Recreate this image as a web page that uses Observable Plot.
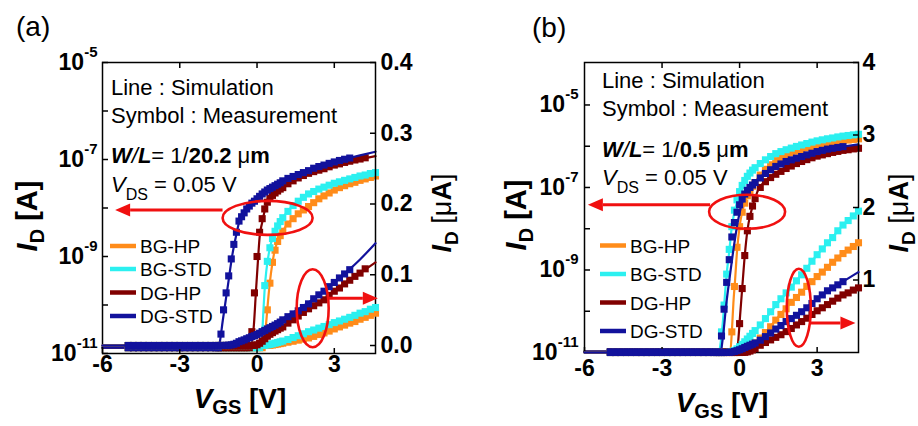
<!DOCTYPE html>
<html><head><meta charset="utf-8">
<script src="https://cdn.jsdelivr.net/npm/d3@7"></script>
<script src="https://cdn.jsdelivr.net/npm/@observablehq/plot@0.6"></script>
<style>
body{margin:0;background:#fff;}
#wrap{position:relative;width:918px;height:426px;overflow:hidden;font-family:"Liberation Sans",Arial,sans-serif;background:#fff;}
#wrap svg{position:absolute;left:0;top:0;}
</style></head><body><div id="wrap"></div>
<script>
// ---------------- data ----------------
const deviceNames = ["BG-HP", "BG-STD", "DG-HP", "DG-STD"];
const deviceColors = ["#ff8c1a", "#2cf0f0", "#800000", "#12129c"];

// Panel (a): W/L = 1/20.2 um ; measured log10(ID[A]) on the VGS sweep grid
const vgsMeasA = [-5.0,-4.8,-4.6,-4.4,-4.2,-4.0,-3.8,-3.6,-3.4,-3.2,-3.0,-2.8,-2.6,-2.4,-2.2,-2.0,-1.8,-1.6,
  -1.5,-1.4,-1.3,-1.2,-1.1,-1.0,-0.9,-0.8,-0.7,-0.6,-0.5,-0.4,-0.3,-0.2,-0.1,0.0,0.1,0.2,0.3,0.4,0.5,0.6,0.7,0.8,0.9,1.0,
  1.2,1.4,1.6,1.8,2.0,2.2,2.4,2.6,2.8,3.0,3.2,3.4,3.6,3.8,4.0,4.2,4.4,4.6];
const measA_BGHP = [-10.88,-10.88,-10.88,-10.88,-10.88,-10.88,-10.88,-10.88,-10.88,-10.88,-10.88,-10.88,-10.88,-10.88,-10.88,-10.88,-10.88,-10.88,
  -10.88,-10.88,-10.88,-10.88,-10.88,-10.88,-10.88,-10.88,-10.88,-10.88,-10.88,-10.88,-10.88,-10.88,-10.88,-10.88,-10.88,-10.88,
  -10.75,-10.1,-9.55,-9.12,-8.87,-8.69,-8.57,-8.48,
  -8.33,-8.22,-8.12,-8.04,-7.97,-7.89,-7.81,-7.75,-7.69,-7.63,-7.58,-7.54,-7.50,-7.47,-7.43,-7.40,-7.37,-7.34];
const measA_BGSTD = [-10.88,-10.88,-10.88,-10.88,-10.88,-10.88,-10.88,-10.88,-10.88,-10.88,-10.88,-10.88,-10.88,-10.88,-10.88,-10.88,-10.88,-10.88,
  -10.88,-10.88,-10.88,-10.88,-10.88,-10.88,-10.88,-10.88,-10.88,-10.88,-10.88,-10.88,-10.88,-10.88,-10.88,-10.88,-10.88,
  -10.55,-9.6,-9.1,-8.82,-8.63,-8.48,-8.37,-8.28,-8.20,
  -8.07,-7.95,-7.86,-7.78,-7.71,-7.66,-7.61,-7.57,-7.53,-7.49,-7.46,-7.43,-7.40,-7.37,-7.34,-7.32,-7.29,-7.27];
const measA_DGHP = [-10.88,-10.88,-10.88,-10.88,-10.88,-10.88,-10.88,-10.88,-10.88,-10.88,-10.88,-10.88,-10.88,-10.88,-10.88,-10.88,-10.88,-10.88,
  -10.88,-10.88,-10.88,-10.88,-10.88,-10.88,-10.88,-10.88,-10.88,-10.88,-10.88,-10.88,-10.88,
  -10.55,-9.75,-9.0,-8.5,-8.22,-8.02,-7.88,-7.80,-7.74,-7.69,-7.65,-7.61,-7.58,
  -7.50,-7.44,-7.38,-7.33,-7.285,-7.25,-7.22,-7.19,-7.15,-7.115,-7.09,-7.06,-7.035,-7.01,-6.99,-6.965,null,null];
const measA_DGSTD = [-10.88,-10.88,-10.88,-10.88,-10.88,-10.88,-10.88,-10.88,-10.88,-10.88,-10.88,-10.88,-10.88,-10.88,-10.88,-10.88,-10.88,-10.88,
  -10.88,-10.6,-10.1,-9.75,-9.4,-9.05,-8.75,-8.5,-8.27,-8.18,-8.10,-8.02,-7.96,-7.90,-7.86,-7.81,-7.76,-7.71,-7.67,-7.63,-7.60,-7.57,-7.54,-7.51,-7.48,-7.44,
  -7.39,-7.35,-7.31,-7.27,-7.23,-7.18,-7.145,-7.115,-7.08,-7.05,-7.02,-6.995,-6.97,null,null,null,null,null];
// simulated [VGS, log10(ID[A])]
const simA_BGHP = [[-6,-10.88],[0.25,-10.88],[0.3,-10.7],[0.35,-10.4],[0.43,-9.9],[0.54,-9.35],[0.66,-8.94],[0.86,-8.61],[1.21,-8.32],[1.71,-8.08],[2.37,-7.82],[3.0,-7.63],[3.5,-7.51],[4.0,-7.42],[4.6,-7.34]];
const simA_BGSTD = [[-6,-10.88],[0.14,-10.88],[0.2,-10.6],[0.25,-10.1],[0.3,-9.65],[0.36,-9.3],[0.47,-8.9],[0.66,-8.53],[0.93,-8.26],[1.32,-7.99],[1.98,-7.72],[2.6,-7.56],[3.27,-7.44],[4.0,-7.34],[4.6,-7.27]];
const simA_DGHP = [[-6,-10.88],[-0.25,-10.88],[-0.2,-10.8],[-0.12,-10.4],[-0.04,-9.7],[0.04,-9.05],[0.1,-8.6],[0.2,-8.3],[0.3,-8.05],[0.43,-7.87],[0.6,-7.74],[0.8,-7.65],[1.0,-7.58],[1.5,-7.41],[2.0,-7.285],[2.5,-7.2],[3.0,-7.115],[3.5,-7.045],[4.0,-6.99],[4.6,-6.93]];
const simA_DGSTD = [[-6,-10.88],[-1.5,-10.88],[-1.45,-10.78],[-1.33,-10.32],[-1.14,-9.63],[-0.95,-8.94],[-0.8,-8.54],[-0.69,-8.28],[-0.4,-8.02],[0,-7.81],[0.5,-7.585],[1.0,-7.42],[1.5,-7.31],[2.0,-7.215],[2.5,-7.13],[3.0,-7.05],[3.5,-6.98],[4.0,-6.915],[4.6,-6.84]];

// Panel (b): W/L = 1/0.5 um
const vgsMeasB = [-5.0,-4.8,-4.6,-4.4,-4.2,-4.0,-3.8,-3.6,-3.4,-3.2,-3.0,-2.8,-2.6,-2.4,-2.2,-2.0,-1.8,-1.6,-1.4,-1.2,-1.0,
  -0.9,-0.8,-0.7,-0.6,-0.5,-0.4,-0.3,-0.2,-0.1,0.0,0.1,0.2,0.3,0.4,0.5,0.6,
  0.8,1.0,1.2,1.4,1.6,1.8,2.0,2.2,2.4,2.6,2.8,3.0,3.2,3.4,3.6,3.8,4.0,4.2,4.4,4.6];
const measB_BGHP = [-10.98,-10.98,-10.98,-10.98,-10.98,-10.98,-10.98,-10.98,-10.98,-10.98,-10.98,-10.98,-10.98,-10.98,-10.98,-10.98,-10.98,-10.98,-10.98,-10.98,-10.98,
  -10.98,-10.98,-10.98,-10.98,-10.98,-10.98,-10.5,-9.4,-8.45,-7.95,-7.6,-7.38,-7.2,-7.08,-6.97,-6.88,
  -6.70,-6.56,-6.45,-6.35,-6.28,-6.22,-6.16,-6.12,-6.08,-6.04,-6.01,-5.98,-5.955,-5.93,-5.905,-5.885,-5.865,-5.85,-5.835,-5.82];
const measB_BGSTD = [-10.98,-10.98,-10.98,-10.98,-10.98,-10.98,-10.98,-10.98,-10.98,-10.98,-10.98,-10.98,-10.98,-10.98,-10.98,-10.98,-10.98,-10.98,-10.98,-10.98,-10.98,
  -10.98,-10.98,-10.5,-9.85,-9.1,-8.5,-7.95,-7.55,-7.3,-7.1,-6.95,-6.83,-6.73,-6.65,-6.58,-6.52,
  -6.42,-6.33,-6.25,-6.18,-6.13,-6.085,-6.045,-6.005,-5.97,-5.935,-5.90,-5.87,-5.845,-5.82,-5.80,-5.775,-5.755,-5.74,-5.725,-5.71];
const measB_DGHP = [-10.98,-10.98,-10.98,-10.98,-10.98,-10.98,-10.98,-10.98,-10.98,-10.98,-10.98,-10.98,-10.98,-10.98,-10.98,-10.98,-10.98,-10.98,-10.98,-10.98,-10.98,
  -10.98,-10.98,-10.98,-10.98,-10.98,-10.98,-10.98,-10.98,-10.98,-10.3,-9.45,-8.65,-8.05,-7.7,-7.45,-7.27,
  -7.0,-6.86,-6.76,-6.68,-6.61,-6.54,-6.48,-6.42,-6.37,-6.325,-6.28,-6.24,-6.21,-6.18,-6.15,-6.125,-6.10,-6.085,-6.065,-6.05];
const measB_DGSTD = [-10.98,-10.98,-10.98,-10.98,-10.98,-10.98,-10.98,-10.98,-10.98,-10.98,-10.98,-10.98,-10.98,-10.98,-10.98,-10.98,-10.98,-10.98,-10.98,-10.98,-10.98,
  -10.98,-10.98,-10.6,-9.95,-9.3,-8.75,-8.2,-7.85,-7.6,-7.42,-7.28,-7.16,-7.07,-7.0,-6.94,-6.88,
  -6.77,-6.66,-6.57,-6.49,-6.43,-6.37,-6.33,-6.29,-6.25,-6.21,-6.17,-6.13,-6.10,-6.07,-6.05,-6.03,-6.01,null,null,null];
const simB_BGHP = [[-6,-10.98],[-0.36,-10.98],[-0.3,-10.5],[-0.24,-9.8],[-0.17,-9.2],[-0.1,-8.55],[0.0,-7.95],[0.08,-7.65],[0.3,-7.2],[0.5,-6.97],[0.77,-6.72],[1.0,-6.56],[1.42,-6.34],[2.0,-6.16],[2.5,-6.06],[3.0,-5.98],[3.5,-5.915],[4.0,-5.865],[4.6,-5.82]];
const simB_BGSTD = [[-6,-10.98],[-0.8,-10.98],[-0.72,-10.7],[-0.64,-10.2],[-0.56,-9.55],[-0.5,-9.1],[-0.4,-8.55],[-0.3,-7.95],[-0.2,-7.6],[-0.12,-7.4],[0,-7.15],[0.2,-6.87],[0.5,-6.6],[0.9,-6.38],[1.4,-6.19],[2.0,-6.045],[2.5,-5.95],[3.0,-5.87],[3.5,-5.81],[4.0,-5.755],[4.6,-5.71]];
const simB_DGHP = [[-6,-10.98],[-0.1,-10.98],[-0.05,-10.7],[0.02,-10.1],[0.1,-9.45],[0.2,-8.65],[0.3,-8.05],[0.46,-7.55],[0.69,-7.1],[0.9,-6.9],[1.15,-6.77],[1.5,-6.64],[2.0,-6.48],[2.5,-6.35],[3.0,-6.24],[3.5,-6.165],[4.0,-6.1],[4.6,-6.05]];
const simB_DGSTD = [[-6,-10.98],[-0.72,-10.98],[-0.68,-10.8],[-0.64,-10.6],[-0.51,-9.8],[-0.38,-9.16],[-0.26,-8.6],[-0.06,-7.8],[0.13,-7.3],[0.45,-6.98],[0.9,-6.7],[1.4,-6.49],[1.8,-6.37],[2.5,-6.23],[3.0,-6.13],[3.5,-6.06],[4.0,-6.01],[4.6,-5.955]];

// axis ticks
const xTicks = [-6, -3, 0, 3];
const logTicks = [1e-5, 1e-6, 1e-7, 1e-8, 1e-9, 1e-10, 1e-11];
const linTicksA = [0, 0.1, 0.2, 0.3, 0.4];
const linTicksB = [1, 2, 3, 4];
const legendLabels = deviceNames;

// annotation anchors in data coordinates
const annotA = {ellLog: [0.43, 6.1e-9], arrLog: [-1.32, -5.49, 8.9e-9], ellLin: [2.18, 0.052], arrLin: [2.8, 4.71, 0.066]};
const annotB = {ellLog: [0.31, 2.5e-8], arrLog: [-1.12, -5.85, 3.7e-8], ellLin: [2.31, 0.61], arrLin: [2.77, 4.5, 0.40]};

// ---------------- helpers ----------------
const measRows = (vgs, logs) => vgs.map((v, i) => ({V: v, ID: logs[i] == null ? null : Math.pow(10, logs[i])})).filter(d => d.ID != null);
const simRows = pairs => pairs.map(([v, l]) => ({V: v, ID: Math.pow(10, l)}));

function richText(svg, x, y, parts, {size = 22, anchor = "start", rotate = 0} = {}) {
  const t = d3.select(svg).append("text").attr("x", x).attr("y", y)
    .attr("font-size", size).attr("text-anchor", anchor).attr("fill", "black")
    .style("white-space", "pre").attr("font-family", "Liberation Sans, Arial, sans-serif");
  if (rotate) t.attr("transform", `rotate(${rotate},${x},${y})`);
  let cur = 0;
  for (const p of parts) {
    const sp = t.append("tspan").text(p.t);
    const shift = p.sh || 0;
    if (shift !== cur) { sp.attr("dy", shift - cur); cur = shift; }
    if (p.s) sp.attr("font-size", p.s);
    sp.attr("font-weight", p.b ? "bold" : "normal");
    if (p.i) sp.attr("font-style", "italic");
  }
  return t;
}

const RED = "#f01010";
function arrow(svg, x0, x1, y) {
  const g = d3.select(svg);
  const dir = Math.sign(x1 - x0), head = 15, half = 6.5;
  g.append("line").attr("x1", x0).attr("y1", y).attr("x2", x1 - dir * head).attr("y2", y)
    .attr("stroke", RED).attr("stroke-width", 3);
  g.append("path").attr("d", `M${x1},${y}L${x1 - dir * head},${y - half}L${x1 - dir * head},${y + half}Z`).attr("fill", RED);
}
function ellipse(svg, cx, cy, rx, ry) {
  d3.select(svg).append("ellipse").attr("cx", cx).attr("cy", cy).attr("rx", rx).attr("ry", ry)
    .attr("fill", "none").attr("stroke", RED).attr("stroke-width", 2.6);
}

function supLabels(svg) {
  d3.select(svg).selectAll('g[aria-label="y-axis tick label"] text').each(function () {
    const s = this.textContent;
    if (!s.startsWith("10^")) return;
    const e = s.slice(3);
    this.textContent = "";
    d3.select(this).append("tspan").text("10");
    d3.select(this).append("tspan").attr("dy", -13).attr("font-size", 15).text(e);
  });
}

const baseStyle = {background: "transparent", fontFamily: "Liberation Sans, Arial, sans-serif",
  fontSize: "23px", fontWeight: "bold", color: "black", overflow: "visible"};

function buildPanel(cfg) {
  const meas = cfg.meas.map(m => measRows(cfg.vgs, m));
  const sims = cfg.sim.map(simRows);
  const common = {width: 918, height: 426, marginLeft: cfg.ml, marginRight: cfg.mr, marginTop: cfg.mt, marginBottom: cfg.mb, style: baseStyle};
  const dataMarks = (yf) => {
    const out = [];
    deviceNames.forEach((n, k) => {
      out.push(Plot.dot(meas[k], {x: "V", y: yf, symbol: "square", r: 4, fill: deviceColors[k], stroke: null}));
      out.push(Plot.line(sims[k], {x: "V", y: yf, stroke: deviceColors[k], strokeWidth: 2.2, curve: "monotone-x"}));
    });
    return out;
  };
  const logPlot = Plot.plot({
    ...common,
    x: {domain: [-6, 4.6], label: null},
    y: {type: "log", domain: cfg.logDomain, label: null},
    marks: [
      ...dataMarks("ID"),
      Plot.axisX({ticks: xTicks, tickSize: -5, tickPadding: cfg.xPad, tickFormat: d => String(d), label: null, strokeWidth: 1.5}),
      Plot.axisX({anchor: "top", ticks: [-3, 0, 3], tickSize: -5, tickFormat: () => "", label: null, strokeWidth: 1.5}),
      Plot.axisY({ticks: logTicks, tickSize: -6, tickPadding: cfg.lPad, label: null, strokeWidth: 1.5,
        tickFormat: d => { const e = Math.round(Math.log10(d)); return e % 2 !== 0 ? `10^${e}` : ""; }}),
      Plot.frame({stroke: "black", strokeWidth: 1.5})
    ]
  });
  const linPlot = Plot.plot({
    ...common,
    x: {domain: [-6, 4.6], axis: null, label: null},
    y: {domain: cfg.linDomain, label: null},
    marks: [
      ...dataMarks(d => d.ID * 1e6),
      Plot.axisY({anchor: "right", ticks: cfg.linTicks, tickSize: -6, tickPadding: cfg.rPad, tickFormat: cfg.linFmt, label: null, strokeWidth: 1.5})
    ]
  });
  supLabels(logPlot);
  const wrap = document.getElementById("wrap");
  wrap.appendChild(logPlot);
  wrap.appendChild(linPlot);

  const top = linPlot;
  const sx = logPlot.scale("x"), sy = logPlot.scale("y"), sl = linPlot.scale("y");
  const a = cfg.annot;
  ellipse(top, sx.apply(a.ellLog[0]), sy.apply(a.ellLog[1]), cfg.ell1[0], cfg.ell1[1]);
  arrow(top, sx.apply(a.arrLog[0]), sx.apply(a.arrLog[1]), sy.apply(a.arrLog[2]));
  ellipse(top, sx.apply(a.ellLin[0]), sl.apply(a.ellLin[1]), cfg.ell2[0], cfg.ell2[1]);
  arrow(top, sx.apply(a.arrLin[0]), sx.apply(a.arrLin[1]), sl.apply(a.arrLin[2]));

  // panel tag
  richText(top, cfg.tag[0], cfg.tag[1], [{t: cfg.tagText}], {size: 28});
  // text block
  const tx = cfg.txt.x, ty = cfg.txt.y;
  richText(top, tx, ty[0], [{t: "Line : Simulation"}], {size: 22});
  richText(top, tx, ty[1], [{t: "Symbol : Measurement"}], {size: 22});
  richText(top, tx, ty[2], [{t: "W", b: 1, i: 1}, {t: "/", i: 1}, {t: "L", b: 1, i: 1}, {t: "= 1/"}, {t: cfg.lenText, b: 1}, {t: " μ"}, {t: "m", b: 1}], {size: 22});
  richText(top, tx, ty[3], [{t: "V", i: 1}, {t: "DS", s: 16, sh: 8}, {t: " = 0.05 V"}], {size: 22});
  // legend
  legendLabels.forEach((n, k) => {
    const y = cfg.leg.y[k];
    d3.select(top).append("line").attr("x1", cfg.leg.x).attr("x2", cfg.leg.x + 26).attr("y1", y).attr("y2", y)
      .attr("stroke", deviceColors[k]).attr("stroke-width", 4.5);
    richText(top, cfg.leg.x + 30, y + 7, [{t: n}], {size: 19});
  });
  // axis titles
  richText(top, cfg.yl[0], cfg.yl[1], [{t: "I", b: 1, i: 1}, {t: "D", b: 1, s: 20, sh: 7}, {t: " [A]", b: 1}], {size: 29, anchor: "middle", rotate: -90});
  richText(top, cfg.yr[0], cfg.yr[1], [{t: "I", b: 1, i: 1}, {t: "D", b: 1, s: 19, sh: 7}, {t: " [μ"}, {t: "A", b: 1}, {t: "]"}], {size: 27, anchor: "middle", rotate: -90});
  richText(top, cfg.xl[0], cfg.xl[1], [{t: "V", b: 1, i: 1}, {t: "GS", b: 1, s: 20, sh: 6}, {t: " [V]", b: 1}], {size: 28, anchor: "middle"});
}

buildPanel({
  vgs: vgsMeasA, meas: [measA_BGHP, measA_BGSTD, measA_DGHP, measA_DGSTD], sim: [simA_BGHP, simA_BGSTD, simA_DGHP, simA_DGSTD],
  ml: 102, mr: 543, mt: 62, mb: 73, logDomain: [1e-11, 1e-5], linDomain: [-0.0113, 0.4], linTicks: linTicksA, linFmt: d => d.toFixed(1),
  xPad: 7, lPad: 11, rPad: 11, annot: annotA, ell1: [45, 17], ell2: [16, 39],
  tag: [16, 36], tagText: "(a)", lenText: "20.2",
  txt: {x: 111, y: [95, 123, 163, 192]}, leg: {x: 110, y: [246, 269, 292.5, 316]},
  yl: [37, 216], yr: [451, 213], xl: [240, 408]
});
buildPanel({
  vgs: vgsMeasB, meas: [measB_BGHP, measB_BGSTD, measB_DGHP, measB_DGSTD], sim: [simB_BGHP, simB_BGSTD, simB_DGHP, simB_DGSTD],
  ml: 584, mr: 60, mt: 62, mb: 74, logDomain: [1e-11, 1.07e-4], linDomain: [0, 4], linTicks: linTicksB, linFmt: d => String(d),
  xPad: 12, lPad: 12, rPad: 10, annot: annotB, ell1: [38, 17], ell2: [12, 39],
  tag: [532, 37], tagText: "(b)", lenText: "0.5",
  txt: {x: 602, y: [88, 116, 157, 185]}, leg: {x: 600, y: [245.5, 274, 302.5, 331]},
  yl: [526, 215], yr: [908, 213], xl: [722, 412]
});
</script></body></html>
